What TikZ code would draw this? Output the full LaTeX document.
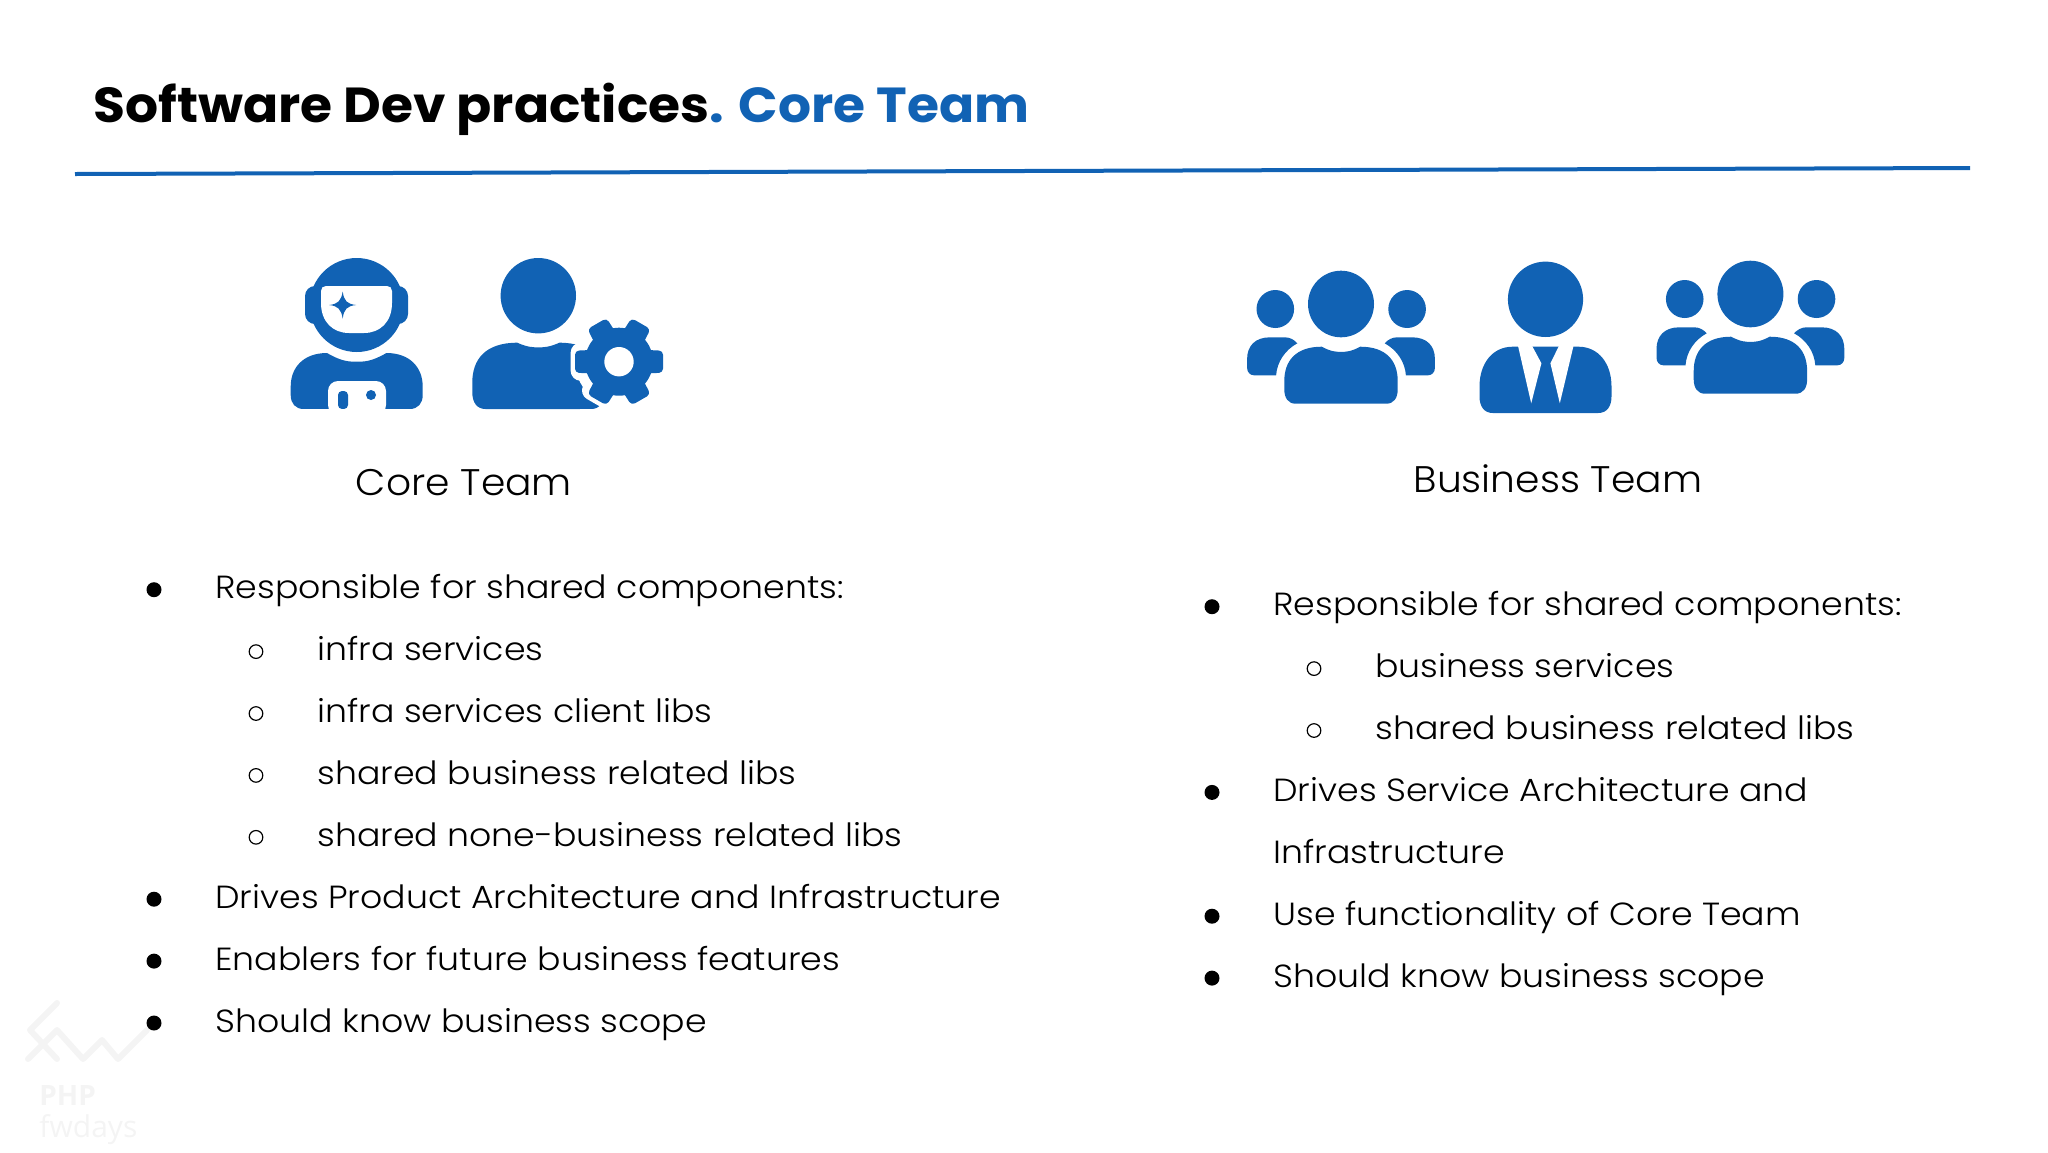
\documentclass[tikz,border=0pt]{standalone}
\usepackage{fontspec}
\setmainfont{Poppins}
\newfontfamily\titlefont[FakeStretch=1.055]{Poppins}
\newfontfamily\headfont[FakeStretch=1.06]{Poppins Light}
\newfontfamily\lightfont[FakeStretch=1.085]{Poppins Light}
\newfontfamily\markfont{Open Sans}
\definecolor{slideblue}{HTML}{1162B4}
\definecolor{markgray}{HTML}{F4F4F4}
\tikzset{
	title/.style={anchor=base west, inner sep=0pt, font=\titlefont\fontsize{24.6}{28}\selectfont\bfseries},
	heading/.style={anchor=base, inner sep=0pt, font=\headfont\fontsize{18.5}{22}\selectfont},
	itemtext/.style={anchor=base west, inner sep=0pt, font=\lightfont\fontsize{16}{20}\selectfont},
	dotTop/.style={circle, fill=black, inner sep=0pt, minimum size=7.5pt},
	dotSub/.style={circle, draw=black, line width=0.6pt, inner sep=0pt, minimum size=6.8pt},
}
\newcommand{\itemTop}[4]{
	\path (#1,#2-9) node[dotTop](#3dot){};
	\path (#1+61,#2) node[itemtext](#3){#4};
}
\newcommand{\itemSub}[4]{
	\path (#1,#2-9) node[dotSub](#3dot){};
	\path (#1+61,#2) node[itemtext](#3){#4};
}
\newcommand{\bodyShape}[6]{
	\begin{scope}[shift={(#1,#2)}, x=#3*0.5pt, y=#4*-0.5pt]
		\fill[slideblue] (-0.8,1) -- (0.8,1) .. controls (0.93,1) and (1,0.9) .. (1,0.75) -- (1,0.6)
			.. controls (1,0.25) and (0.8,0) .. (#5,0) .. controls (#5*0.5,#6) and (#5*0.25,#6) .. (0,#6)
			.. controls (-#5*0.25,#6) and (-#5*0.5,#6) .. (-#5,0) .. controls (-0.8,0) and (-1,0.25) .. (-1,0.6)
			-- (-1,0.75) .. controls (-1,0.9) and (-0.93,1) .. (-0.8,1) -- cycle;
	\end{scope}
}
\newcommand{\sideBody}[3]{
	\begin{scope}[shift={(#1,#2)}, xscale=#3]
		\fill[slideblue] (-93.9,55) .. controls (-93.9,42) and (-86,33.3) .. (-71,33.3) -- (-56,33.3)
			.. controls (-51,33.3) and (-46.5,36) .. (-43.7,39.3) .. controls (-56,46) and (-64,58) .. (-64.9,71.3)
			-- (-87,71.3) .. controls (-91,71.3) and (-93.9,68) .. (-93.9,64) -- cycle;
	\end{scope}
}
\newcommand{\teamIcon}[2]{
	\fill[slideblue] (#1,#2) ellipse[x radius=33, y radius=33.3];
	\fill[slideblue] (#1-65.7,#2+5) ellipse[x radius=18.8, y radius=19];
	\fill[slideblue] (#1+66.1,#2+5) ellipse[x radius=18.8, y radius=19];
	\sideBody{#1}{#2}{1};
	\sideBody{#1}{#2}{-1};
	\bodyShape{#1}{#2+42.7}{56.7}{57}{0.34}{0.09};
}

\begin{document}
\begin{tikzpicture}[x=0.5pt, y=-0.5pt]
	\useasboundingbox (0,0) rectangle (2048,1152);

	% watermark
	\draw[markgray, line width=3pt, line cap=round, line join=round] (57,1003) -- (30,1030) -- (57,1059);
	\draw[markgray, line width=3pt, line cap=round, line join=round] (28,1059) -- (57,1030) -- (83,1059) -- (102,1040) -- (118,1059) -- (147,1030);
	\path (39,1105) node[anchor=base west, inner sep=0pt, text=markgray, font=\markfont\fontsize{14}{16}\selectfont\bfseries](markphp){PHP};
	\path (39,1137) node[anchor=base west, inner sep=0pt, text=markgray, font=\markfont\fontsize{15}{16}\selectfont](markfw){fwdays};

	% title
	\path (93,122) node[title](slidetitle){Software Dev practices\textcolor{slideblue}{. Core Team}};
	\coordinate (ruleL) at (75,174);
	\coordinate (ruleR) at (1970,168);
	\draw[slideblue, line width=2pt] (ruleL) -- (ruleR);

	% astronaut
	\fill[slideblue, rounded corners=5pt] (305,286) rectangle (408,324);
	\fill[slideblue] (356.7,305) circle[radius=47];
	\fill[white] (326,286) -- (387,286) .. controls (390,286) and (392,288) .. (392,291) -- (392,303)
		.. controls (392,322) and (380,333) .. (364,333) -- (349,333) .. controls (333,333) and (321,322) .. (321,303)
		-- (321,291) .. controls (321,288) and (323,286) .. (326,286) -- cycle;
	\fill[slideblue] (342.7,291.5) .. controls (344,301) and (347,304) .. (356.2,305) .. controls (347,306) and (344,309) .. (342.7,318.5)
		.. controls (341,309) and (338,306) .. (329.2,305) .. controls (338,304) and (341,301) .. (342.7,291.5) -- cycle;
	\bodyShape{356.7}{353}{66}{56}{0.45}{0.155};
	\fill[white, rounded corners=5pt] (328,415) -- (328,381) -- (386,381) -- (386,415) -- cycle;
	\fill[slideblue, rounded corners=2pt] (338,409) -- (338,391) -- (348,391) -- (348,409) -- cycle;
	\fill[slideblue] (371,395) circle[radius=5];
	\fill[white] (280,409) rectangle (430,420);

	% person with gear
	\fill[slideblue] (538.3,295.7) circle[radius=37.7];
	\bodyShape{538.3}{342.7}{66}{66.3}{0.32}{0.07};
	\fill[white] (619,361.7) circle[radius=44];
	\foreach \ang in {30,90,150,210,270,330} {
		\draw[white, fill=white, line width=4pt, rounded corners=3pt, rotate around={\ang:(619,361.7)}] (604,361.7) rectangle (634,406);
	}
	\fill[white] (580,409) rectangle (640,420);
	\fill[slideblue] (619,361.7) circle[radius=34];
	\foreach \ang in {30,90,150,210,270,330} {
		\fill[slideblue, rounded corners=2pt, rotate around={\ang:(619,361.7)}] (606,361.7) -- (608,405.7) -- (630,405.7) -- (632,361.7) -- cycle;
	}
	\fill[white] (619,361.7) circle[radius=14.7];

	% team icons
	\teamIcon{1341}{304};
	\teamIcon{1750.4}{294};

	% manager
	\fill[slideblue] (1545.5,299.3) ellipse[x radius=37.6, y radius=37.7];
	\bodyShape{1545.5}{346.7}{66}{66.3}{0.5}{0};
	\fill[white] (1517.8,345) -- (1531.2,403.3) -- (1541.4,363.3) -- (1531.6,345) -- cycle;
	\fill[white] (1573.7,345) -- (1559.8,403.3) -- (1550.4,363.3) -- (1559.4,345) -- cycle;

	% headings
	\path (464,495) node[heading](coreheading){Core Team};
	\path (1558,492) node[heading](businessheading){Business Team};

	% left column
	\itemTop{154}{598.7}{coreA}{Responsible for shared components:};
	\itemSub{256}{660.6}{coreB}{infra services};
	\itemSub{256}{722.5}{coreC}{infra services client libs};
	\itemSub{256}{784.4}{coreD}{shared business related libs};
	\itemSub{256}{846.3}{coreE}{shared none-business related libs};
	\itemTop{154}{908.2}{coreF}{Drives Product Architecture and Infrastructure};
	\itemTop{154}{970.1}{coreG}{Enablers for future business features};
	\itemTop{154}{1032}{coreH}{Should know business scope};

	% right column
	\itemTop{1212}{615.7}{busA}{Responsible for shared components:};
	\itemSub{1314}{677.6}{busB}{business services};
	\itemSub{1314}{739.5}{busC}{shared business related libs};
	\itemTop{1212}{801.4}{busD}{Drives Service Architecture and};
	\path (1273,863.3) node[itemtext](busE){Infrastructure};
	\itemTop{1212}{925.2}{busF}{Use functionality of Core Team};
	\itemTop{1212}{987.1}{busG}{Should know business scope};
\end{tikzpicture}
\end{document}
